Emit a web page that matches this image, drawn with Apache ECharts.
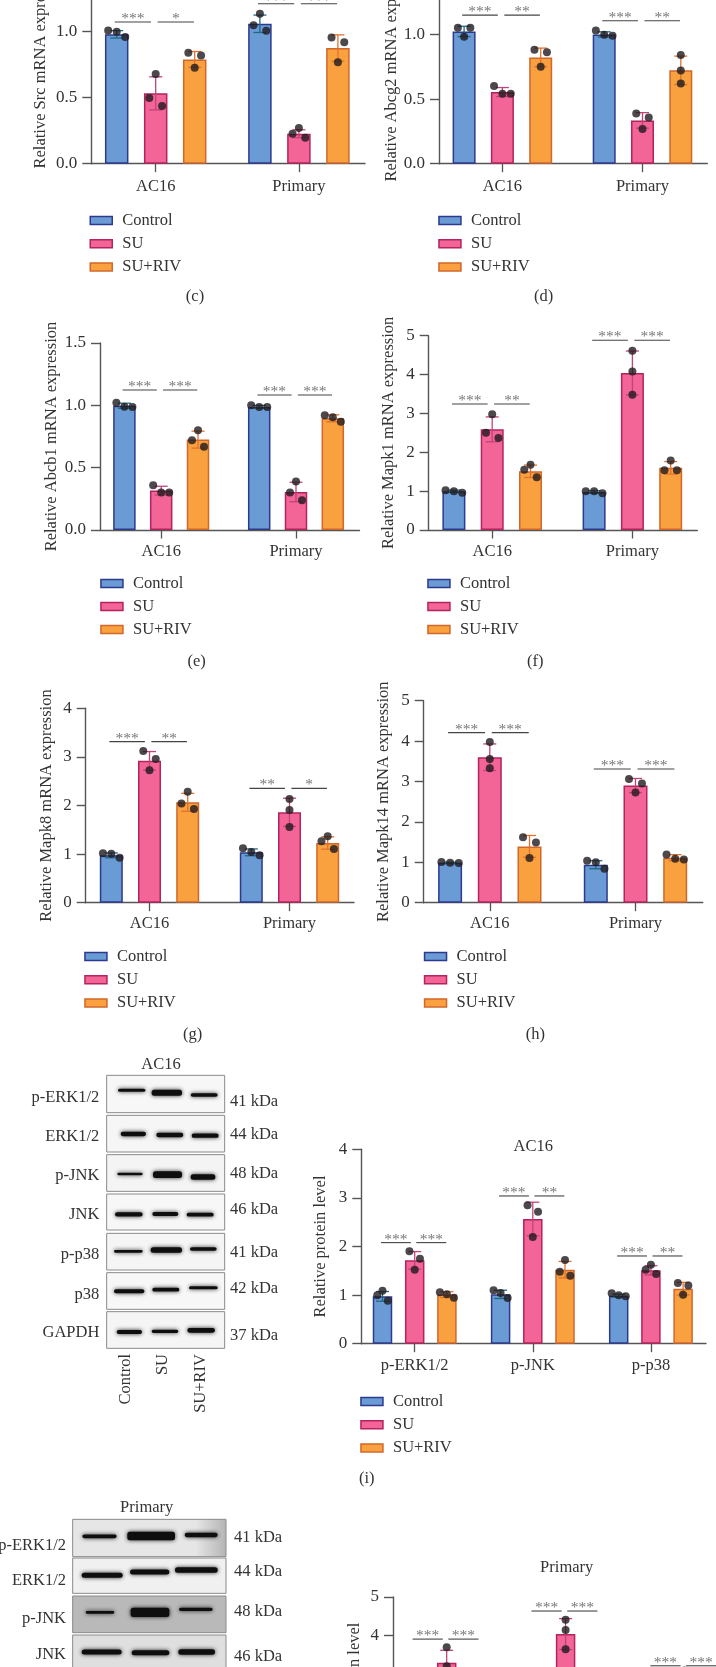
<!DOCTYPE html>
<html><head><meta charset="utf-8">
<style>html,body{margin:0;padding:0;background:#fff}#m{width:716px;height:1667px}</style>
<script src="https://cdn.jsdelivr.net/npm/echarts@6/dist/echarts.min.js"></script>
</head><body><div id="m"></div>
<script>
const legendNames = ['Control','SU','SU+RIV'];
const cellCats = ['AC16','Primary'];
const proteinCats = ['p-ERK1/2','p-JNK','p-p38'];

const c_bars = [[0.98,0.533,0.79],[1.06,0.227,0.876]];
const c_errs = [[0.028,0.125,0.06],[0.066,0.03,0.1]];
const c_dots = [[[1.01,1.0,0.96],[0.68,0.497,0.437],[0.84,0.82,0.727]],[[1.136,1.048,1.008],[0.27,0.227,0.197],[0.957,0.92,0.768]]];
const c_sig = [[1.073,'***','*'],[1.212,'***','***']];

const d_bars = [[1.023,0.554,0.822],[1.0,0.335,0.722]];
const d_errs = [[0.04,0.035,0.072],[0.02,0.06,0.11]];
const d_dots = [[[1.052,1.052,0.982],[0.6,0.541,0.541],[0.881,0.861,0.75]],[[1.03,0.997,0.99],[0.389,0.358,0.268],[0.84,0.72,0.62]]];
const d_sig = [[1.149,'***','**'],[1.106,'***','**']];

const e_bars = [[0.997,0.316,0.725],[0.987,0.305,0.896]];
const e_errs = [[0.02,0.035,0.068],[0.012,0.078,0.028]];
const e_dots = [[[1.021,0.989,0.987],[0.358,0.3,0.3],[0.8,0.72,0.668]],[[1.0,0.987,0.987],[0.39,0.3,0.238],[0.92,0.904,0.869]]];
const e_sig = [[1.123,'***','***'],[1.083,'***','***']];

const f_bars = [[0.995,2.59,1.51],[0.98,4.04,1.6]];
const f_errs = [[0.03,0.32,0.16],[0.03,0.565,0.16]];
const f_dots = [[[1.02,1.0,0.96],[2.98,2.5,2.37],[1.68,1.55,1.36]],[[0.995,0.995,0.945],[4.61,4.08,3.48],[1.79,1.535,1.535]]];
const f_sig = [[3.24,'***','**'],[4.88,'***','***']];

const g_bars = [[0.974,2.92,2.065],[1.036,1.86,1.228]];
const g_errs = [[0.05,0.19,0.185],[0.07,0.29,0.127]];
const g_dots = [[[1.015,1.008,0.926],[3.12,2.957,2.724],[2.285,2.04,1.928]],[[1.118,1.043,0.974],[2.134,1.907,1.557],[1.365,1.262,1.105]]];
const g_sig = [[3.314,'***','**'],[2.353,'**','*']];

const h_bars = [[0.99,3.6,1.394],[0.94,2.9,1.114]];
const h_errs = [[0.012,0.33,0.27],[0.1,0.175,0.075]];
const h_dots = [[[1.007,0.99,0.98],[3.98,3.56,3.325],[1.617,1.49,1.105]],[[1.04,1.0,0.84],[3.06,2.95,2.73],[1.196,1.09,1.07]]];
const h_sig = [[4.21,'***','***'],[3.31,'***','***']];

const i_bars = [[0.974,1.715,1.01],[1.015,2.566,1.523],[0.988,1.51,1.132]];
const i_errs = [[0.1,0.18,0.06],[0.085,0.345,0.17],[0.03,0.095,0.13]];
const i_dots = [[[1.09,0.995,0.885],[1.9,1.75,1.523],[1.057,1.015,0.947]],[[1.098,1.043,0.94],[2.847,2.717,2.196],[1.722,1.482,1.4]],[[1.036,0.995,0.974],[1.626,1.523,1.434],[1.249,1.2,1.009]]];
const i_sig = [[2.08,'***','***'],[3.04,'***','**'],[1.805,'***','**']];

const j_bars = [[1.0,3.3,1.3],[1.0,4.04,1.5],[1.0,2.9,1.4]];
const j_errs = [[0.08,0.32,0.15],[0.08,0.4,0.15],[0.05,0.2,0.15]];
const j_dots = [[[1.08,1.0,0.92],[3.7,3.21,2.95],[1.45,1.3,1.15]],[[1.08,1.0,0.92],[4.41,4.145,3.65],[1.65,1.5,1.35]],[[1.05,1.0,0.95],[3.1,2.9,2.7],[1.55,1.4,1.25]]];
const j_sig = [[3.91,'***','***'],[4.636,'***','***'],[3.22,'***','***']];

const FONT = '"Liberation Serif", serif';
const TXT = '#333333';
const fills = ['#6a9bd5','#f26596','#f9a03f'];
const edges = ['#2c3a8e','#b4235f','#d2672b'];
const whisk = ['#1d6a80','#c2437a','#e0722f'];

const panels = [
 {name:'Relative Src mRNA expression',cats:cellCats,bars:c_bars,errs:c_errs,dots:c_dots,sig:c_sig,x0:91.3,xEnd:365,y0:163.7,unit:132,ymax:1.5,step:0.5,dec:1,c:[155.7,298.9],off:39,bw:23.5,nameGap:42,lm:14,lg:[89.5,220.5,23.2]},
 {name:'Relative Abcg2 mRNA expression',cats:cellCats,bars:d_bars,errs:d_errs,dots:d_dots,sig:d_sig,x0:439,xEnd:707.3,y0:163.7,unit:129.3,ymax:1.5,step:0.5,dec:1,c:[502.4,642.5],off:38.3,bw:23,nameGap:35,lm:14,lg:[438.2,220.5,23.2]},
 {name:'Relative Abcb1 mRNA expression',cats:cellCats,bars:e_bars,errs:e_errs,dots:e_dots,sig:e_sig,x0:100,xEnd:359.5,y0:530,unit:124.67,ymax:1.5,step:0.5,dec:1,c:[161.2,296],off:36.8,bw:22.5,nameGap:40,lm:13,lg:[100.2,583.6,23]},
 {name:'Relative Mapk1 mRNA expression',cats:cellCats,bars:f_bars,errs:f_errs,dots:f_dots,sig:f_sig,x0:428.7,xEnd:697.3,y0:530,unit:38.87,ymax:5,step:1,dec:0,c:[492.2,632.4],off:38.3,bw:23,nameGap:32,lm:13,lg:[427.2,583.6,23]},
 {name:'Relative Mapk8 mRNA expression',cats:cellCats,bars:g_bars,errs:g_errs,dots:g_dots,sig:g_sig,x0:85.7,xEnd:354,y0:902.7,unit:48.6,ymax:4,step:1,dec:0,c:[149.5,289.5],off:38.2,bw:23,nameGap:31,lm:12.5,lg:[84.2,956.5,23.2]},
 {name:'Relative Mapk14 mRNA expression',cats:cellCats,bars:h_bars,errs:h_errs,dots:h_dots,sig:h_sig,x0:423.7,xEnd:702.7,y0:902.7,unit:40.4,ymax:5,step:1,dec:0,c:[489.8,635.5],off:39.7,bw:24,nameGap:32,lm:12.5,lg:[423.8,956.5,23.2]},
 {name:'Relative protein level',cats:proteinCats,bars:i_bars,errs:i_errs,dots:i_dots,sig:i_sig,x0:361.3,xEnd:706,y0:1343.7,unit:48.6,ymax:4,step:1,dec:0,c:[414.7,532.8,650.9],off:32.2,bw:19.5,nameGap:32,lm:13,lg:[360.2,1401.5,23.2]},
 {name:'Relative protein level',cats:proteinCats,bars:j_bars,errs:j_errs,dots:j_dots,sig:j_sig,x0:393,xEnd:712,y0:1790.3,unit:38.67,ymax:5,step:1,dec:0,c:[446.7,565,684.5],off:32.5,bw:19.5,nameGap:30,lm:13,lg:null}
];

/* horizontal spread of the replicate dots: neighbours whose circles would collide are fanned out */
function dotSpread(vals, unit, off){
  const v = vals.slice().sort((a,b)=>b-a);
  const g1 = (v[0]-v[1])*unit, g2 = (v[1]-v[2])*unit, T = 8.5;
  const wide = 0.218*off, narrow = 0.163*off;
  let o;
  if (g1 < T && g2 < T) o = (g1 < 4.5 || g2 < 1.5) ? [-wide,0,wide] : [0,-narrow,narrow];
  else if (g1 < T) o = [-narrow,narrow,0];
  else if (g2 < T) o = [0,-narrow,narrow];
  else o = [0,0,0];
  return v.map((y,i)=>[y,o[i]]);
}

const grid=[],xAxis=[],yAxis=[],series=[],legend=[];
panels.forEach((p,k)=>{
  const B = (p.c[p.c.length-1]-p.c[0])/(p.c.length-1);
  const left = p.c[0]-B/2, top = p.y0-p.unit*p.ymax, height = p.unit*p.ymax;
  const gi = 2*k, fi = 2*k+1;
  grid.push({left,top,width:B*p.cats.length,height,containLabel:false,outerBoundsMode:'none'});
  grid.push({left:p.x0,top,width:p.xEnd-p.x0,height,containLabel:false,outerBoundsMode:'none'});
  xAxis.push({type:'category',gridIndex:gi,data:p.cats,axisLine:{show:false},
    axisTick:{show:true,alignWithLabel:true,length:8.5,lineStyle:{color:'#555',width:1.3}},
    axisLabel:{interval:0,margin:p.lm,fontFamily:FONT,fontSize:16.5,color:TXT}});
  yAxis.push({type:'value',gridIndex:gi,min:0,max:p.ymax,interval:p.step,offset:left-p.x0,splitLine:{show:false},
    axisLine:{show:true,lineStyle:{color:'#555',width:1.4}},axisTick:{show:true,length:9,lineStyle:{color:'#555',width:1.4}},
    axisLabel:{margin:14,fontFamily:FONT,fontSize:17,color:TXT,formatter:v=>v.toFixed(p.dec)},
    name:p.name,nameLocation:'middle',nameGap:p.nameGap,nameTextStyle:{fontFamily:FONT,fontSize:16.5,color:TXT}});
  xAxis.push({type:'value',gridIndex:fi,min:0,max:1,axisLine:{show:true,onZero:false,lineStyle:{color:'#555',width:1.4}},axisTick:{show:false},axisLabel:{show:false},splitLine:{show:false}});
  yAxis.push({type:'value',gridIndex:fi,min:0,max:p.ymax,show:false});

  legendNames.forEach((nm,s)=>{
    series.push({type:'bar',name:nm,xAxisIndex:gi,yAxisIndex:gi,barWidth:p.bw,barGap:((p.off-p.bw)/p.bw*100)+'%',
      itemStyle:{color:fills[s],borderColor:edges[s],borderWidth:1.5},
      data:p.bars.map(g=>g[s]),silent:true,z:2});
  });
  const errRows=[];
  p.errs.forEach((g,i)=>g.forEach((e,s)=>errRows.push({i,s,m:p.bars[i][s],e})));
  series.push({type:'custom',name:'error',xAxisIndex:gi,yAxisIndex:gi,silent:true,z:3,
    data:errRows.map(r=>[r.i,r.m]),
    renderItem(params,api){
      const r=errRows[params.dataIndex];
      const t=api.coord([r.i,r.m+r.e]), b=api.coord([r.i,r.m-r.e]);
      const x=t[0]+(r.s-1)*p.off, cap=6.5;
      const st={stroke:whisk[r.s],lineWidth:1.3,fill:null};
      return {type:'group',children:[
        {type:'line',shape:{x1:x,y1:t[1],x2:x,y2:b[1]},style:st},
        {type:'line',shape:{x1:x-cap,y1:t[1],x2:x+cap,y2:t[1]},style:st},
        {type:'line',shape:{x1:x-cap,y1:b[1],x2:x+cap,y2:b[1]},style:st}]};
    }});
  const dotData=[];
  p.dots.forEach((g,i)=>g.forEach((vals,s)=>{
    dotSpread(vals,p.unit,p.off).forEach(([y,dx])=>dotData.push({value:[i,y],symbolOffset:[(s-1)*p.off+dx,0]}));
  }));
  series.push({type:'scatter',name:'replicates',xAxisIndex:gi,yAxisIndex:gi,symbol:'circle',symbolSize:8,silent:true,z:4,
    itemStyle:{color:'#1f1a1e'},data:dotData});
  const sigRows=[];
  p.sig.forEach((g,i)=>{sigRows.push({i,y:g[0],a:-1.05*p.off,b:-0.12*p.off,t:g[1]});sigRows.push({i,y:g[0],a:0.05*p.off,b:0.98*p.off,t:g[2]});});
  series.push({type:'custom',name:'significance',xAxisIndex:gi,yAxisIndex:gi,silent:true,z:5,
    data:sigRows.map(r=>[r.i,r.y]),
    renderItem(params,api){
      const r=sigRows[params.dataIndex];
      const q=api.coord([r.i,r.y]);
      return {type:'group',children:[
        {type:'line',shape:{x1:q[0]+r.a,y1:q[1],x2:q[0]+r.b,y2:q[1]},style:{stroke:'#444',lineWidth:1.1,fill:null}},
        {type:'text',style:{x:q[0]+(r.a+r.b)/2,y:q[1]-3,text:r.t,fill:'#777',font:'15.5px '+FONT,align:'center',verticalAlign:'middle'}}]};
    }});
  if(p.lg){
    legend.push({data:legendNames,orient:'vertical',padding:0,left:p.lg[0],top:p.lg[1]-9,icon:'rect',itemWidth:22,itemHeight:8,
      itemGap:p.lg[2]-18,selectedMode:false,itemStyle:{borderWidth:1.5},
      textStyle:{fontFamily:FONT,fontSize:16.5,color:TXT,lineHeight:18,padding:[0,0,0,5]}});
  }
});

/* text outside the plots */
const notes=[
 ['(c)',195,296.7,'center'],['(d)',543.7,296.7,'center'],['(e)',196.7,661.7,'center'],['(f)',535.3,661.7,'center'],
 ['(g)',192.7,1035,'center'],['(h)',535.3,1035,'center'],['(i)',366.7,1479,'center'],
 ['AC16',533.3,1146.7,'center'],['Primary',566.7,1567.3,'center'],['AC16',161,1065,'center'],['Primary',146.7,1508,'center'],
 ['p-ERK1/2',99.3,1097.3,'right'],['ERK1/2',99.3,1136.3,'right'],['p-JNK',99.3,1176,'right'],['JNK',99.3,1214.7,'right'],['p-p38',99.3,1254.3,'right'],['p38',99.3,1294.7,'right'],['GAPDH',99.3,1332.7,'right'],
 ['41 kDa',230,1101.7,'left'],['44 kDa',230,1134.3,'left'],['48 kDa',230,1173.3,'left'],['46 kDa',230,1209.3,'left'],['41 kDa',230,1252.7,'left'],['42 kDa',230,1288.3,'left'],['37 kDa',230,1335.3,'left'],
 ['p-ERK1/2',66,1545.7,'right'],['ERK1/2',66,1581,'right'],['p-JNK',66,1618.3,'right'],['JNK',66,1655,'right'],
 ['41 kDa',234,1538,'left'],['44 kDa',234,1571.3,'left'],['48 kDa',234,1611.7,'left'],['46 kDa',234,1656.7,'left']
];
const lanes=[['Control',126],['SU',162.7],['SU+RIV',200.7]];

/* western-blot picture: frames and bands, in zoomed-crop units (divide by 3, add origin) */
const blotA={ox:0,oy:1040,x:[320,674],rows:[
 {y:[106,218],fill:'#f7f7f7',b:[[352,438,151,9],[453,548,158,18],[570,655,165,11]]},
 {y:[226,336],fill:'#f6f6f6',b:[[360,440,282,13],[467,552,285,13],[573,658,287,13]]},
 {y:[344,454],fill:'#f4f4f4',b:[[350,430,402,7],[457,548,404,20],[570,648,411,16]]},
 {y:[462,570],fill:'#f7f7f7',b:[[343,430,523,13],[455,537,522,12],[558,643,524,11]]},
 {y:[580,690],fill:'#f5f5f5',b:[[340,430,634,8],[450,548,630,17],[568,652,627,11]]},
 {y:[698,808],fill:'#f7f7f7',b:[[340,435,754,12],[455,540,749,11],[565,655,743,9]]},
 {y:[815,925],fill:'#f5f5f5',b:[[348,428,876,12],[453,537,874,10],[560,647,871,14]]}]};
const blotB={ox:0,oy:1500,x:[218,678],rows:[
 {y:[58,170],fill:{type:'linear',x:0,y:0,x2:1,y2:0,colorStops:[{offset:0,color:'#e6e6e6'},{offset:0.8,color:'#e6e6e6'},{offset:1,color:'#b4b4b4'}]},b:[[245,352,109,11],[380,527,108,26],[552,655,105,13]]},
 {y:[174,280],fill:'#f0f0f0',b:[[243,370,226,15],[388,510,216,15],[523,655,210,17]]},
 {y:[288,398],fill:'#b9b9b9',b:[[255,345,337,8],[390,510,337,28],[535,640,328,10]]},
 {y:[405,520],fill:'#dfdfdf',b:[[243,367,456,15],[393,510,458,15],[533,647,456,17]]}]};

const graphicEls=[];
[blotA,blotB].forEach(B=>B.rows.forEach(r=>{
  const X=v=>B.ox+v/3, Y=v=>B.oy+v/3;
  graphicEls.push({type:'rect',silent:true,shape:{x:X(B.x[0]),y:Y(r.y[0]),width:(B.x[1]-B.x[0])/3,height:(r.y[1]-r.y[0])/3},
    style:{fill:r.fill,stroke:'#8a8a8a',lineWidth:1}});
  r.b.forEach(b=>{
    graphicEls.push({type:'rect',silent:true,shape:{x:X(b[0]+2),y:Y(b[2]-b[3]/2),width:(b[1]-b[0]-4)/3,height:Math.max(2.2,b[3]/3),r:2.5},
      style:{fill:'#0e0e0e',shadowBlur:4,shadowColor:'rgba(0,0,0,0.85)'}});
  });
}));
notes.forEach(n=>graphicEls.push({type:'text',silent:true,x:n[1],y:n[2],style:{text:n[0],fill:TXT,font:'16.5px '+FONT,align:n[3],verticalAlign:'middle'}}));
lanes.forEach(l=>graphicEls.push({type:'text',silent:true,x:l[1],y:1354,rotation:Math.PI/2,style:{text:l[0],fill:TXT,font:'16.5px '+FONT,align:'right',verticalAlign:'middle'}}));

const chart=echarts.init(document.getElementById('m'),null,{renderer:'canvas',width:716,height:1667});
chart.setOption({animation:false,backgroundColor:'#fff',tooltip:{show:false},grid,xAxis,yAxis,series,legend,graphic:{elements:graphicEls}});
</script></body></html>
